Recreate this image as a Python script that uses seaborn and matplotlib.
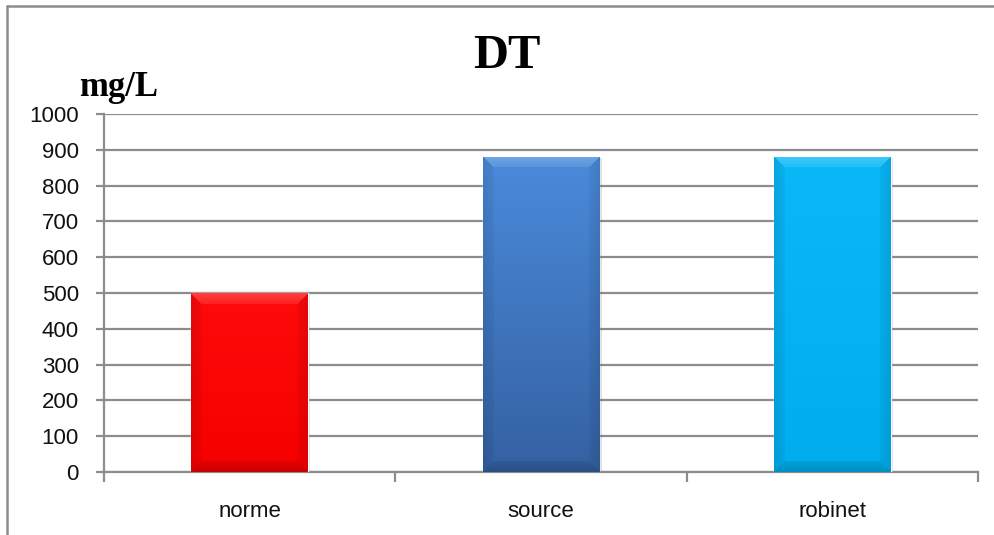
import numpy as np
import pandas as pd
import matplotlib
matplotlib.use("Agg")
import matplotlib.pyplot as plt
import seaborn as sns
from matplotlib.colors import to_rgb
from matplotlib.patches import Rectangle
from matplotlib.lines import Line2D

categories = ["norme", "source", "robinet"]
values = [500, 880, 880]
yticks = [0, 100, 200, 300, 400, 500, 600, 700, 800, 900, 1000]
title = "DT"
unit = "mg/L"

# (top colour, bottom colour) for each bar
bar_colors = [("#ff0a0a", "#f60000"), ("#4a8bdb", "#3461a2"), ("#0ab8f8", "#00aeee")]

sns.set_theme(style="white")
plt.rcParams["font.family"] = ["Liberation Sans", "DejaVu Sans"]

W, H, DPI = 995, 535, 100
fig = plt.figure(figsize=(W / DPI, H / DPI), dpi=DPI, facecolor="white", edgecolor="white",
                 linewidth=0)
ax = fig.add_axes([104 / W, 1 - 472 / H, (978 - 104) / W, (472 - 114) / H])

df = pd.DataFrame({"cat": categories, "val": values})
sns.barplot(data=df, x="cat", y="val", hue="cat", palette=[c[0] for c in bar_colors],
            width=0.4, legend=False, ax=ax, zorder=3, saturation=1)

ax.set_ylim(0, 1000)
ax.set_xlim(-0.5, len(categories) - 0.5)
ax.set_yticks(yticks)
ax.set_yticklabels([str(v) for v in yticks])
ax.set_xlabel("")
ax.set_ylabel("")

grid_c = "#8c8c8c"
ax.grid(axis="y", color=grid_c, linewidth=1.6, zorder=0)
ax.set_axisbelow(True)
for s in ["top", "right"]:
    ax.spines[s].set_visible(False)
for s in ["left", "bottom"]:
    ax.spines[s].set_color(grid_c)
    ax.spines[s].set_linewidth(1.6)

ax.tick_params(axis="y", which="major", length=6, width=1.6, color=grid_c,
               labelsize=16, pad=12, left=True)
ax.tick_params(axis="x", which="major", length=0, labelsize=16, pad=21)
ax.set_xticks(np.arange(-0.5, len(categories)), minor=True)
ax.tick_params(axis="x", which="minor", length=7, width=1.6, color=grid_c, bottom=True)
for lab in ax.get_xticklabels() + ax.get_yticklabels():
    lab.set_color("#111111")


def bevel_texture(top, bottom, w, h, bev=11):
    top, bottom = np.array(to_rgb(top)), np.array(to_rgb(bottom))
    yy, xx = np.mgrid[0:h, 0:w]
    t = yy / max(h - 1, 1)
    img = top[None, None, :] * (1 - t[..., None]) + bottom[None, None, :] * t[..., None]
    dtop, dbot = yy, h - 1 - yy
    dleft, dright = xx, w - 1 - xx
    dmin = np.minimum(np.minimum(dtop, dbot), np.minimum(dleft, dright))
    shade = np.zeros((h, w))
    band = dmin < bev
    shade[band & (dtop == dmin)] = 0.22
    shade[band & (dbot == dmin)] = -0.18
    shade[band & ((dleft == dmin) | (dright == dmin)) & (dtop != dmin) & (dbot != dmin)] = -0.10
    fade = np.clip(1 - dmin / bev, 0, 1)
    shade = shade * (0.4 + 0.6 * fade)
    out = np.where(shade[..., None] > 0,
                   img + (1 - img) * shade[..., None],
                   img * (1 + shade[..., None]))
    return np.clip(out, 0, 1)


fig.canvas.draw()
for patch, (ctop, cbot) in zip(ax.patches, bar_colors):
    x0, y0 = patch.get_x(), patch.get_y()
    bw, bh = patch.get_width(), patch.get_height()
    p0 = ax.transData.transform((x0, y0))
    p1 = ax.transData.transform((x0 + bw, y0 + bh))
    wpx, hpx = int(round(p1[0] - p0[0])), int(round(p1[1] - p0[1]))
    # soft drop shadow
    ax.add_patch(Rectangle((x0 + bw * 0.02, y0 - 4), bw, bh, facecolor="#000000",
                           alpha=0.12, edgecolor="none", zorder=2.5))
    tex = bevel_texture(ctop, cbot, wpx, hpx)
    im = ax.imshow(tex, extent=(x0, x0 + bw, y0, y0 + bh), aspect="auto",
                   origin="upper", zorder=3.5, interpolation="bilinear")
    im.set_clip_path(patch)
ax.set_xlim(-0.5, len(categories) - 0.5)
ax.set_ylim(0, 1000)

fig.text(507 / W, 1 - 56 / H, title, ha="center", va="center", fontsize=35,
         fontweight="bold", family=["Liberation Serif", "DejaVu Serif"], color="#000000")
fig.text(79 / W, 1 - 87 / H, unit, ha="left", va="center", fontsize=25,
         fontweight="bold", family=["Liberation Serif", "DejaVu Serif"], color="#000000")

# chart frame: top and left edges
fy = 1 - 6 / H
fx = 7.5 / W
fig.add_artist(Line2D([fx, 1.02], [fy, fy], transform=fig.transFigure,
                      color=grid_c, linewidth=1.8))
fig.add_artist(Line2D([fx, fx], [-0.02, fy], transform=fig.transFigure,
                      color=grid_c, linewidth=1.8))

fig.savefig("out.png", dpi=DPI, facecolor="white", edgecolor="white")
